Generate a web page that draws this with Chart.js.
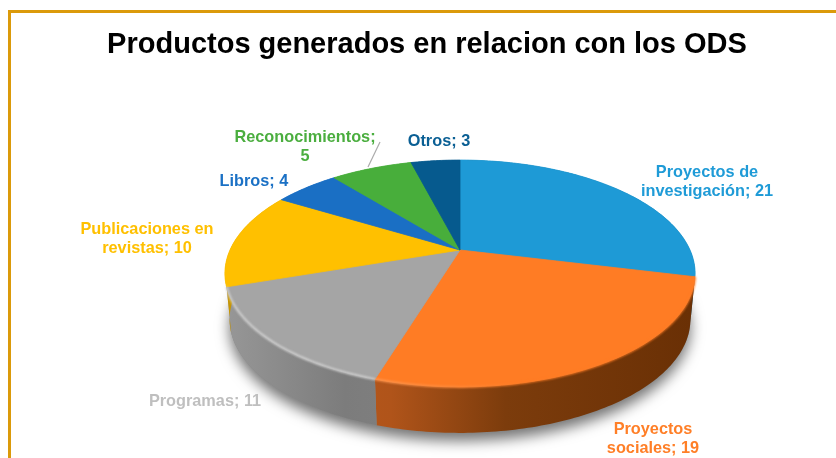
<!DOCTYPE html>
<html>
<head>
<meta charset="utf-8">
<script src="https://cdn.jsdelivr.net/npm/chart.js@4/dist/chart.umd.min.js"></script>
<style>
  html, body { margin: 0; padding: 0; background: #fff; overflow: hidden; }
  #wrap { position: relative; width: 836px; height: 458px; overflow: hidden; }
  #marco { position: absolute; left: 8px; top: 10px; width: 900px; height: 600px; border: 3px solid #DB9A0A; box-sizing: border-box; }
  #titulo { position: absolute; left: 0; top: 27px; width: 854px; text-align: center; font: bold 29px "Liberation Sans", Arial, sans-serif; color: #000; white-space: nowrap; }
  #myChart { position: absolute; left: 0; top: 0; }
</style>
</head>
<body>
<div id="wrap">
  <div id="marco"></div>
  <canvas id="myChart" width="836" height="458"></canvas>
  <div id="titulo">Productos generados en relacion con los ODS</div>
</div>
<script>
const categorias = ['Proyectos de investigación', 'Proyectos sociales', 'Programas', 'Publicaciones en revistas', 'Libros', 'Reconocimientos', 'Otros'];
const valores = [21, 19, 11, 10, 4, 5, 3];
const colores = ['#1E9AD6', '#FF7C24', '#A5A5A5', '#FFC000', '#1A6FC4', '#48AE3B', '#065A8E'];
const coloresTexto = ['#1F9BD7', '#FF7F27', '#BFBFBF', '#FFC000', '#1B71C5', '#4BAE3F', '#0A5F94'];

// text lines and their centre, by hand from the picture
const etiquetas = [
  { lines: ['Proyectos de', 'investigación; 21'], x: 707, y: 173 },
  { lines: ['Proyectos', 'sociales; 19'], x: 653, y: 430 },
  { lines: ['Programas; 11'], x: 205, y: 402 },
  { lines: ['Publicaciones en', 'revistas; 10'], x: 147, y: 230 },
  { lines: ['Libros; 4'], x: 254, y: 182 },
  { lines: ['Reconocimientos;', '5'], x: 305, y: 138 },
  { lines: ['Otros; 3'], x: 439, y: 142 }
];

// side wall shading, left to right over the whole pie
const sombras = [
  [[0, '#155f85'], [1, '#125a80']],
  [[0, '#c05c1c'], [0.35, '#b0541a'], [0.6, '#7c3c0c'], [1, '#6a3005']],
  [[0, '#969696'], [0.25, '#7c7c7c'], [0.4, '#808080'], [1, '#808080']],
  [[0, '#c89600'], [1, '#c89600']],
  [[0, '#1a6fc4'], [1, '#1a6fc4']],
  [[0, '#48ae3b'], [1, '#48ae3b']],
  [[0, '#065a8e'], [1, '#065a8e']]
];

const SQUASH = 0.472;
const PERSP = 0.207;
const DEPTH = 46;
const BASE_X = 0.98;

// circle point -> tilted plane with a bit of perspective
function proyectar(arc, ang, r) {
  const R = arc.outerRadius;
  const u = Math.cos(ang) * r, v = Math.sin(ang) * r;
  const d = 1 - PERSP * v;
  return { x: arc.x + R * u / d, y: arc.y + R * SQUASH * v / d };
}

function borde(arc) {
  const n = Math.max(4, Math.ceil((arc.endAngle - arc.startAngle) * 60));
  const pts = [];
  for (let i = 0; i <= n; i++) {
    pts.push(proyectar(arc, arc.startAngle + (arc.endAngle - arc.startAngle) * i / n, 1));
  }
  return pts;
}

// same rim on the bottom of the disc
function abajo(arc, p) {
  return { x: arc.x + (p.x - arc.x) * BASE_X, y: p.y + DEPTH };
}

const pie3d = {
  id: 'pie3d',
  beforeDatasetDraw() { return false; },
  afterDatasetsDraw(chart) {
    const ctx = chart.ctx;
    const arcs = chart.getDatasetMeta(0).data;
    ctx.save();

    // soft shadow under the disc
    ctx.save();
    ctx.shadowColor = 'rgba(0,0,0,0.55)';
    ctx.shadowBlur = 14;
    ctx.shadowOffsetY = 8;
    ctx.fillStyle = '#888';
    ctx.beginPath();
    arcs.forEach(arc => borde(arc).forEach(p => {
      const q = abajo(arc, p);
      ctx.lineTo(q.x, q.y);
    }));
    ctx.closePath();
    ctx.fill();
    ctx.restore();

    // wall
    arcs.forEach((arc, i) => {
      const pts = borde(arc);
      const g = ctx.createLinearGradient(arc.x - arc.outerRadius, 0, arc.x + arc.outerRadius, 0);
      sombras[i].forEach(s => g.addColorStop(s[0], s[1]));
      ctx.fillStyle = g;
      ctx.beginPath();
      pts.forEach(p => ctx.lineTo(p.x, p.y));
      pts.slice().reverse().forEach(p => {
        const q = abajo(arc, p);
        ctx.lineTo(q.x, q.y);
      });
      ctx.closePath();
      ctx.fill();
    });

    // top face
    arcs.forEach((arc, i) => {
      const pts = borde(arc);
      ctx.fillStyle = colores[i];
      ctx.strokeStyle = colores[i];
      ctx.lineWidth = 0.8;
      ctx.beginPath();
      ctx.moveTo(arc.x, arc.y);
      pts.forEach(p => ctx.lineTo(p.x, p.y));
      ctx.closePath();
      ctx.fill();
      ctx.stroke();
    });

    // rim highlight, only the grey slice and the start of the orange one
    ctx.save();
    ctx.filter = 'blur(1.2px)';
    [1, 2].forEach(i => {
      const arc = arcs[i];
      const g = ctx.createLinearGradient(arc.x - 90, 0, arc.x + 60, 0);
      if (i === 1) {
        g.addColorStop(0, '#ff9a55');
        g.addColorStop(1, '#ff7c24');
      } else {
        g.addColorStop(0, '#d4d4d4');
        g.addColorStop(1, '#d4d4d4');
      }
      ctx.strokeStyle = g;
      ctx.lineWidth = 2;
      ctx.beginPath();
      borde(arc).forEach(p => ctx.lineTo(p.x, p.y));
      ctx.stroke();
    });
    ctx.restore();

    // leader line of Reconocimientos
    ctx.strokeStyle = '#ABABAB';
    ctx.lineWidth = 1.2;
    ctx.beginPath();
    ctx.moveTo(380, 142);
    ctx.lineTo(368, 167);
    ctx.stroke();

    // labels
    ctx.font = 'bold 16.3px "Liberation Sans", Arial, sans-serif';
    ctx.textAlign = 'center';
    ctx.textBaseline = 'middle';
    etiquetas.forEach((et, i) => {
      ctx.fillStyle = coloresTexto[i];
      et.lines.forEach((t, j) => ctx.fillText(t, et.x, et.y + j * 19));
    });
    ctx.restore();
  }
};

new Chart(document.getElementById('myChart'), {
  type: 'pie',
  data: {
    labels: categorias,
    datasets: [{ data: valores, backgroundColor: colores, radius: 230 }]
  },
  plugins: [pie3d],
  options: {
    responsive: false,
    animation: false,
    layout: { padding: { left: 84, top: 42 } },
    plugins: { legend: { display: false }, tooltip: { enabled: false }, title: { display: false } }
  }
});
</script>
</body>
</html>
